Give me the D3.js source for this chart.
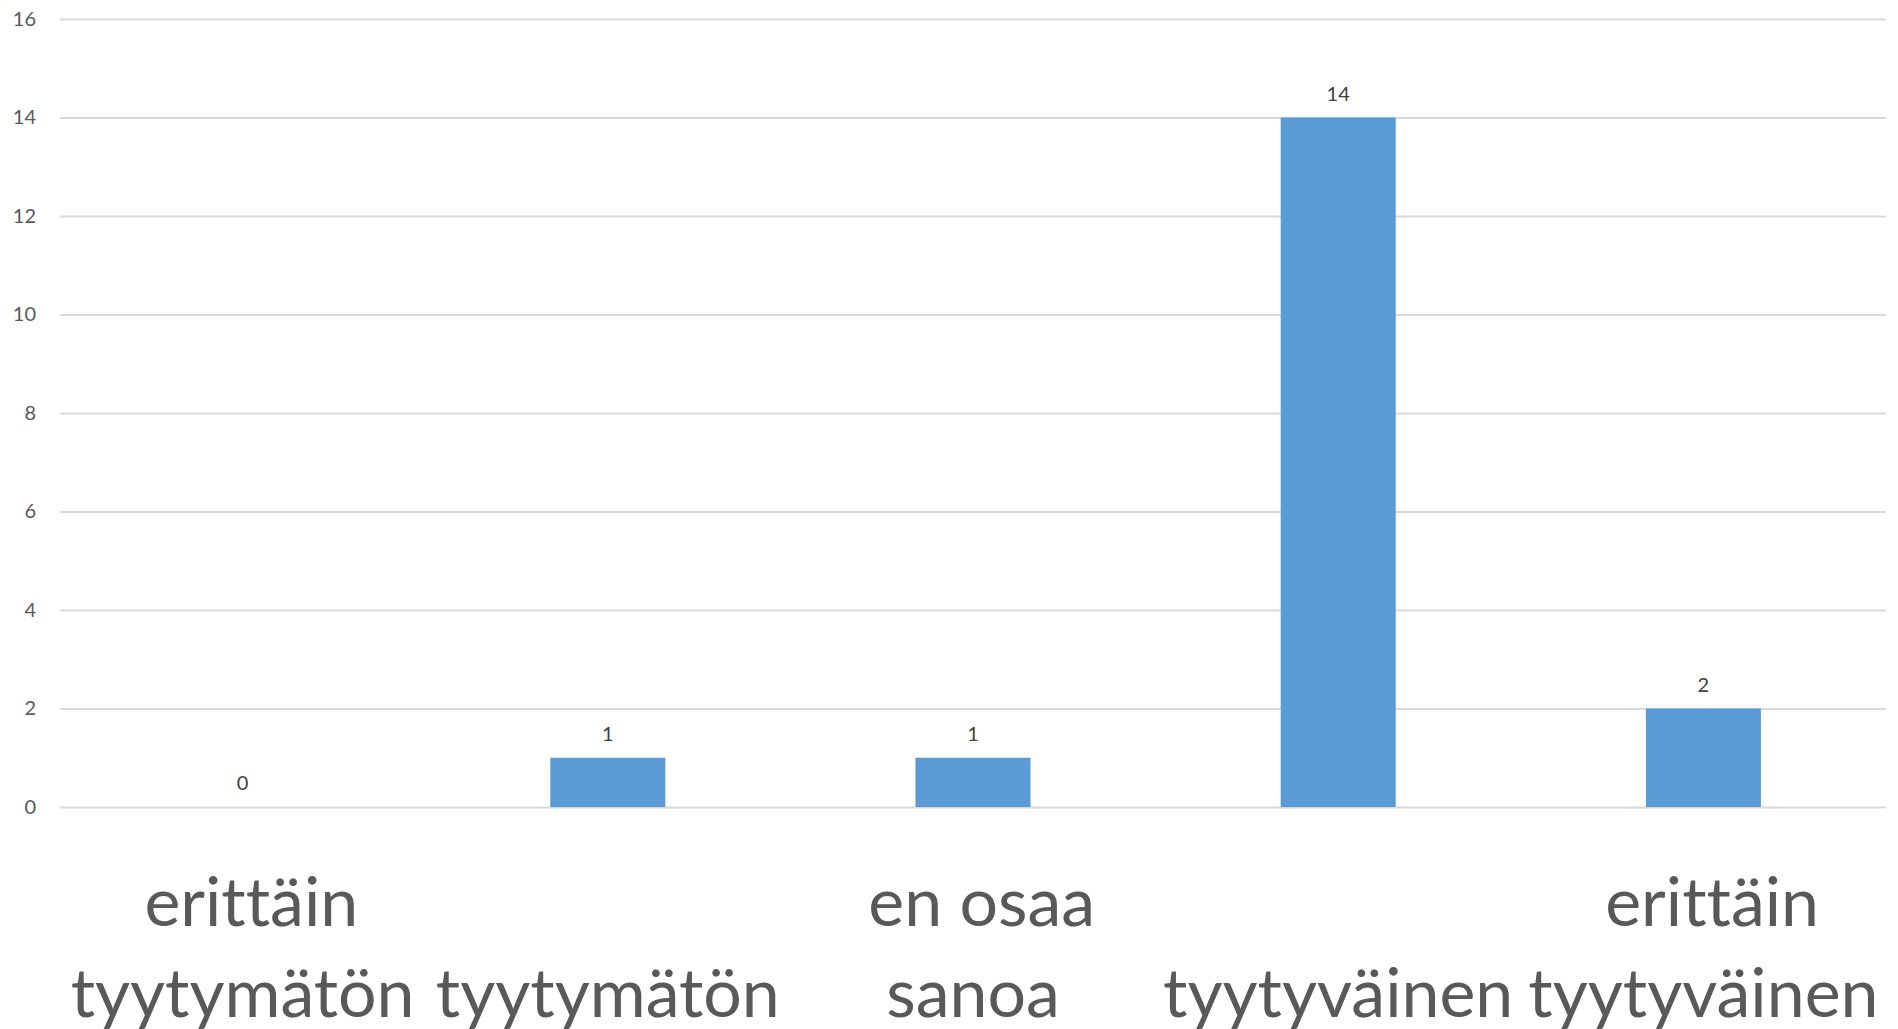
<!DOCTYPE html>
<html>
<head>
<meta charset="utf-8">
<script src="https://cdn.jsdelivr.net/npm/d3@7"></script>
<style>
  html, body { margin: 0; padding: 0; background: #fff; }
  svg { display: block; font-family: Lato, "Open Sans", sans-serif; font-variant-ligatures: none; }
  .xlab text { white-space: pre; }
</style>
</head>
<body>
<div id="chart"></div>
<script>
// chart data
const categories = ["erittäin tyytymätön", "tyytymätön", "en osaa sanoa", "tyytyväinen", "erittäin tyytyväinen"];
const labelLines = [[" erittäin", "tyytymätön"], ["tyytymätön"], [" en osaa", "sanoa"], ["tyytyväinen"], [" erittäin", "tyytyväinen"]];
const values = [0, 1, 1, 14, 2];
const yTicks = [0, 2, 4, 6, 8, 10, 12, 14, 16];

const W = 1898, H = 1029;
const margin = { top: 19, right: 12, bottom: 222, left: 60 };

const svg = d3.select("#chart").append("svg")
  .attr("width", W)
  .attr("height", H);

const x = d3.scaleBand()
  .domain(categories)
  .range([margin.left, W - margin.right])
  .paddingInner(0.685)
  .paddingOuter(0.685 / 2);

const y = d3.scaleLinear()
  .domain([0, 16])
  .range([H - margin.bottom, margin.top]);

// gridlines + y labels
const yAxis = g => g
  .attr("transform", `translate(${margin.left},0)`)
  .call(d3.axisLeft(y)
    .tickValues(yTicks)
    .tickSize(-(W - margin.left - margin.right))
    .tickPadding(24))
  .call(g => g.select(".domain").remove())
  .call(g => g.selectAll(".tick line")
    .attr("stroke", "#d9d9d9")
    .attr("stroke-width", 2))
  .call(g => g.selectAll(".tick text")
    .attr("fill", "#595959")
    .attr("font-size", 20)
    .attr("font-family", "Lato, sans-serif"));

svg.append("g").call(yAxis);

// bars
svg.append("g")
  .selectAll("rect")
  .data(values)
  .join("rect")
  .attr("x", (d, i) => x(categories[i]))
  .attr("y", d => y(d))
  .attr("width", x.bandwidth())
  .attr("height", d => y(0) - y(d))
  .attr("fill", "#5b9bd5");

// value labels
svg.append("g")
  .selectAll("text")
  .data(values)
  .join("text")
  .attr("x", (d, i) => x(categories[i]) + x.bandwidth() / 2)
  .attr("y", d => y(d) - 17)
  .attr("text-anchor", "middle")
  .attr("font-size", 20)
  .attr("fill", "#404040")
  .text(d => d);

// category labels, bottom aligned like the original
const lineGap = 91;
const lastBaseline = 1017;
const xl = svg.append("g").attr("class", "xlab");
labelLines.forEach((lines, i) => {
  const cx = x(categories[i]) + x.bandwidth() / 2;
  lines.forEach((t, j) => {
    xl.append("text")
      .attr("x", cx)
      .attr("y", lastBaseline - (lines.length - 1 - j) * lineGap)
      .attr("text-anchor", "middle")
      .attr("font-size", 68)
      .attr("fill", "#595959")
      .text(t);
  });
});
</script>
</body>
</html>
